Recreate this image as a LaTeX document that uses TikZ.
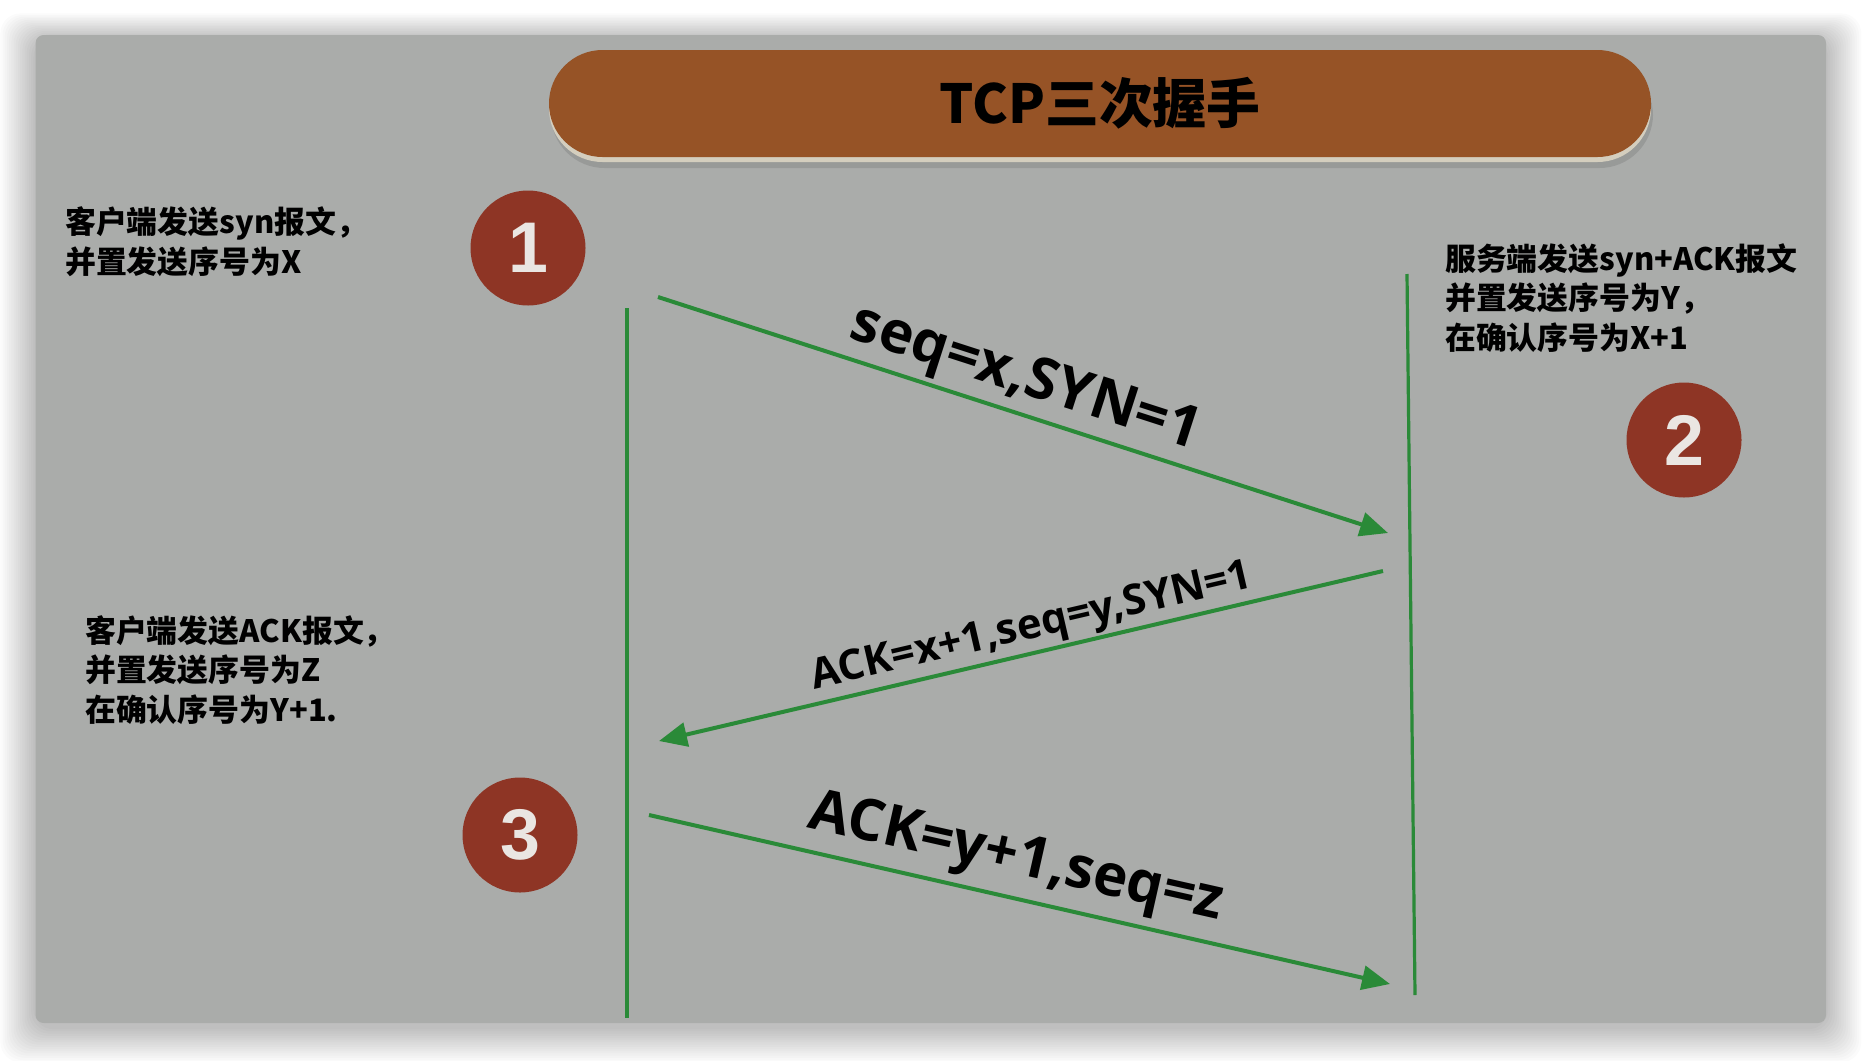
\documentclass[tikz,border=0pt]{standalone}
\usepackage{fontspec}
\setmainfont{Open Sans}
\newfontfamily\cjk{Noto Sans CJK SC}
\newfontfamily\numfont{Liberation Sans}
\usetikzlibrary{arrows.meta}
\definecolor{panelgray}{RGB}{170,172,170}
\definecolor{pillbrown}{RGB}{150,83,38}
\definecolor{pillrim}{RGB}{212,206,190}
\definecolor{badgered}{RGB}{142,53,37}
\definecolor{msggreen}{RGB}{42,138,56}
\definecolor{numwhite}{RGB}{234,230,226}
\begin{document}
\begin{tikzpicture}[x=1bp,y=-1bp,
  pill/.style={rectangle,fill=pillbrown,rounded corners=53.5bp,minimum width=1102bp,minimum height=107bp,inner sep=0,
    font=\cjk\bfseries\fontsize{54}{54}\selectfont,text=black},
  badge/.style={circle,fill=badgered,minimum size=115bp,inner sep=0,text=numwhite,
    font=\numfont\bfseries\fontsize{72}{72}\selectfont},
  life/.style={draw=msggreen,line width=3.2bp},
  msg/.style={draw=msggreen,line width=4bp,-{Triangle[length=28bp,width=24bp]}},
  lblbig/.style={inner sep=0,font=\bfseries\fontsize{58}{58}\selectfont,text=black},
  lblsmall/.style={inner sep=0,font=\bfseries\fontsize{42}{42}\selectfont,text=black},
  note/.style={inner sep=0,align=left,anchor=west,font=\cjk\bfseries\fontsize{31}{40}\selectfont,text=black}
]
\useasboundingbox (0,0) rectangle (1862,1060);
\fill[white] (0,0) rectangle (1862,1060);
% soft shadow around panel
\foreach \i in {1,...,16}{
  \fill[black,opacity=0.016,rounded corners=20bp]
    ({35.6-2.2*\i},{35-1.6*\i+4}) rectangle ({1826+2.2*\i},{1023+2.2*\i+4});
}
% panel
\fill[panelgray,rounded corners=8bp] (35.6,35) rectangle (1826,1023);
% title pill with rim and shadow
\fill[black,opacity=0.10,rounded corners=53.5bp] (551,62) rectangle (1653,168);
\fill[pillrim,rounded corners=53.5bp] (549,55) rectangle (1651,162);
\node[pill] (title) at (1100,103.5) {TCP三次握手};
% badges
\node[badge] (b1) at (528,248) {1};
\node[badge] (b2) at (1684,440) {2};
\node[badge] (b3) at (520,835) {3};
% lifelines
\coordinate (cTop) at (627,308);
\coordinate (cBot) at (627,1018);
\coordinate (sTop) at (1407,274);
\coordinate (sBot) at (1415,995);
\draw[life] (cTop) -- (cBot);
\draw[life] (sTop) -- (sBot);
% messages
\coordinate (a1s) at (658,297);
\coordinate (a1e) at (1388,533);
\coordinate (a2s) at (1383,571);
\coordinate (a2e) at (659,741);
\coordinate (a3s) at (649,815);
\coordinate (a3e) at (1390,984);
\draw[msg] (a1s) -- (a1e);
\draw[msg] (a2s) -- (a2e);
\draw[msg] (a3s) -- (a3e);
% message labels
\node[lblbig,rotate=-17.9] (l1) at (1025,380) {seq=x,SYN=1};
\node[lblsmall,rotate=13.1] (l2) at (1032,628) {ACK=x+1,seq=y,SYN=1};
\node[lblbig,rotate=-12.7] (l3) at (1016,860) {ACK=y+1,seq=z};
% notes
\node[note] (n1) at (65,242) {客户端发送syn报文，\\并置发送序号为X};
\node[note] (n2) at (1445,298) {服务端发送syn+ACK报文\\并置发送序号为Y，\\在确认序号为X+1};
\node[note] (n3) at (85,670) {客户端发送ACK报文，\\并置发送序号为Z\\在确认序号为Y+1.};
\end{tikzpicture}
\end{document}
